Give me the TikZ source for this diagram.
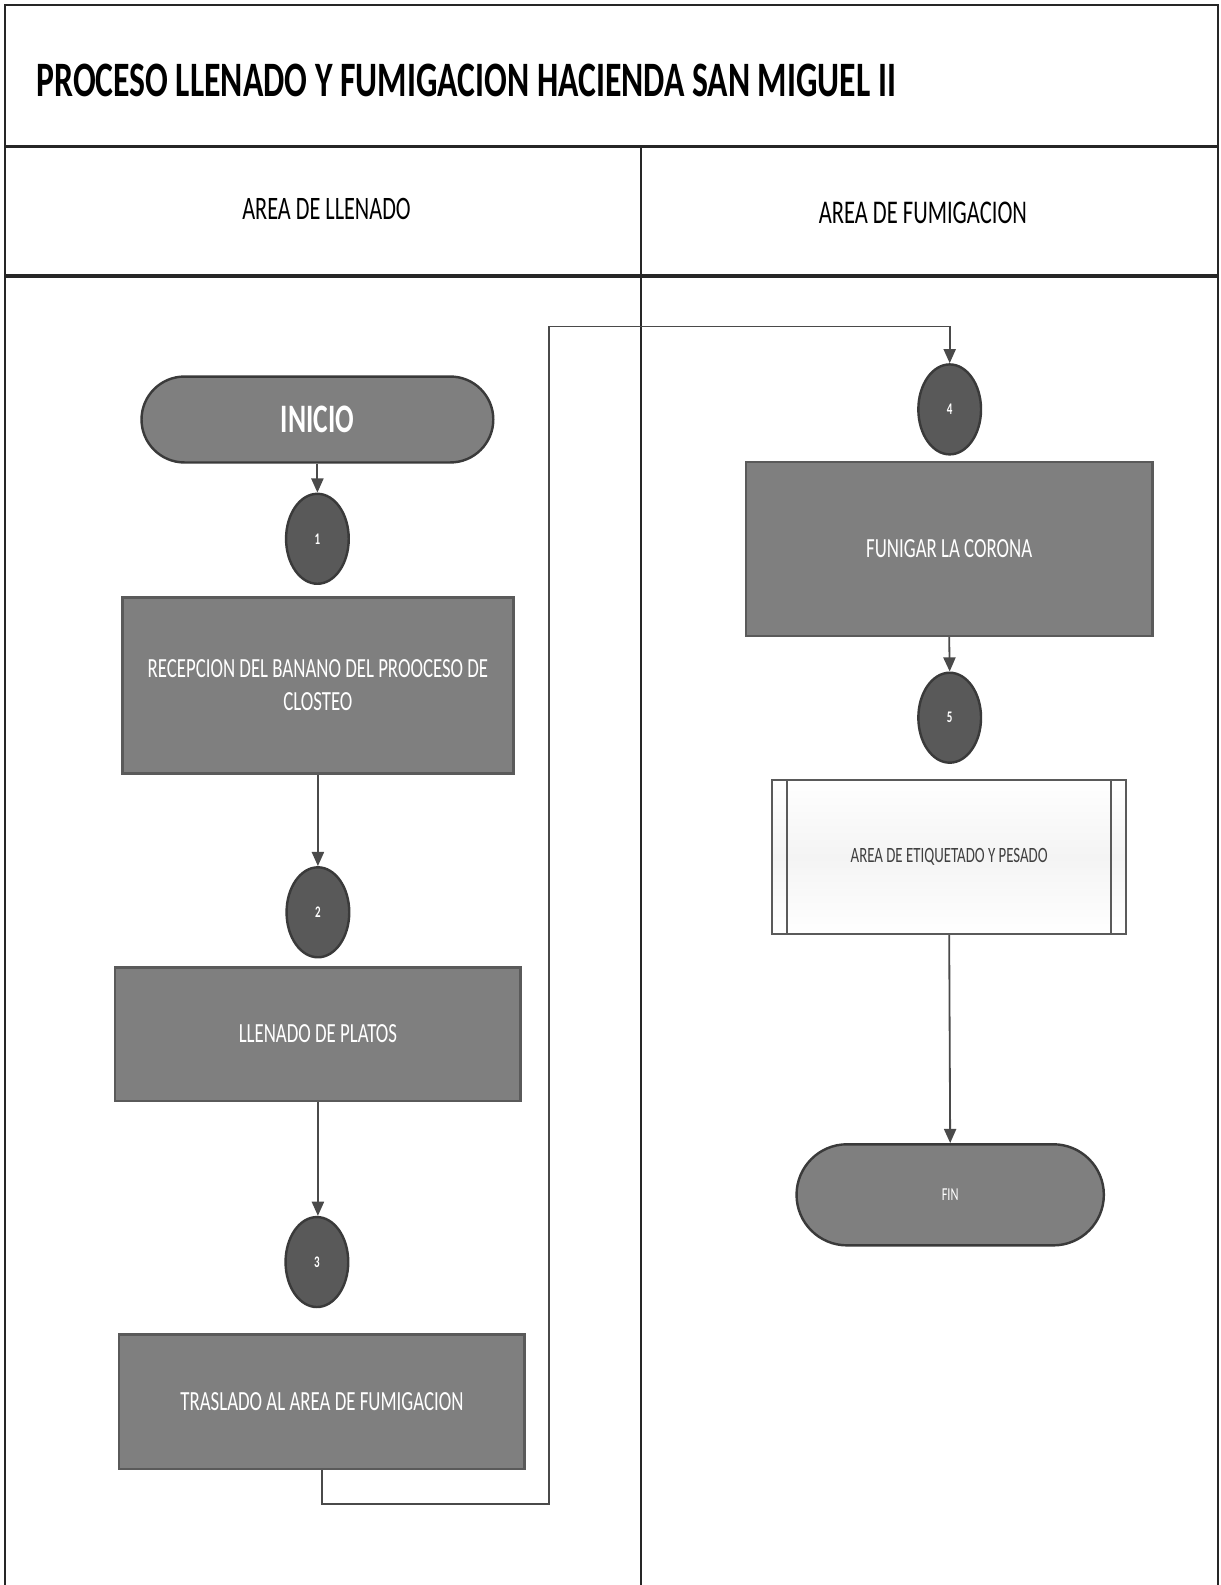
\documentclass[tikz,border=0pt]{standalone}
\usepackage{fontspec}
\setmainfont{Carlito}[FakeStretch=0.68]
\usetikzlibrary{shapes.misc,shapes.geometric,arrows.meta}
\definecolor{framecol}{HTML}{262626}
\definecolor{boxfill}{HTML}{7F7F7F}
\definecolor{boxline}{HTML}{5A5A5A}
\definecolor{dotfill}{HTML}{595959}
\definecolor{dotline}{HTML}{3A3A3A}
\definecolor{arrcol}{HTML}{4A4A4A}
\definecolor{lightfill}{HTML}{F4F4F4}
\begin{document}
\begin{tikzpicture}[x=0.5pt,y=-0.5pt,
  frame/.style={draw=framecol,line width=1.3pt},
  procbox/.style={rectangle,draw=boxline,fill=boxfill,line width=1.2pt,
    text=white,align=center,inner sep=0pt,font=\fontsize{13.7}{16.5}\selectfont},
  termbox/.style={rounded rectangle,draw=dotline,fill=boxfill,line width=1.2pt,
    text=white,inner sep=0pt},
  stepdot/.style={ellipse,draw=dotline,fill=dotfill,line width=1.2pt,
    minimum width=31pt,minimum height=44.5pt,inner sep=0pt,text=white,
    font=\fontsize{8}{9}\selectfont\bfseries},
  subproc/.style={rectangle,draw=boxline,line width=1pt,
    top color=white,bottom color=white,middle color=lightfill,
    inner sep=0pt,text=black!75,font=\fontsize{10.8}{12}\selectfont},
  arr/.style={draw=arrcol,line width=0.9pt,-{Triangle[width=6pt,length=7pt,fill=arrcol]}},
  heading/.style={text=black}
]
% page
\fill[white] (0,0) rectangle (1207,1568);
\useasboundingbox (0,0) rectangle (1207,1568);

% swimlane frame
\draw[frame] (5,1568) -- (5,5) -- (1205,5) -- (1205,1568);
\draw[frame,line width=1.6pt] (5,145) -- (1205,145);
\draw[frame,line width=1.8pt] (5,273) -- (1205,273);
\draw[frame,line width=1pt] (634,145) -- (634,1568);

% titles
\node[anchor=west,font=\fontsize{24.5}{29}\selectfont\bfseries] (title) at (29,80)
  {PROCESO LLENADO Y FUMIGACION HACIENDA SAN MIGUEL II};
\node[heading,font=\fontsize{16.2}{19}\selectfont] (laneA) at (323,207) {AREA DE LLENADO};
\node[heading,font=\fontsize{16.4}{19}\selectfont] (laneB) at (913,211) {AREA DE FUMIGACION};

% area de llenado
\node[termbox,minimum width=174pt,minimum height=42.5pt,
  font=\fontsize{20}{24}\selectfont\bfseries] (inicio) at (314,415) {INICIO};
\node[stepdot] (d1) at (314,533) {1};
\node[procbox,minimum width=193.5pt,minimum height=87pt] (recep) at (314.5,678)
  {RECEPCION DEL BANANO DEL PROOCESO DE\\CLOSTEO};
\node[stepdot] (d2) at (314.5,902.5) {2};
\node[procbox,minimum width=200.5pt,minimum height=66pt] (llen) at (314.5,1023)
  {LLENADO DE PLATOS};
\node[stepdot] (d3) at (313.5,1248.5) {3};
\node[procbox,minimum width=200.5pt,minimum height=66.5pt] (tras) at (318.5,1386.5)
  {TRASLADO AL AREA DE FUMIGACION};

% area de fumigacion
\node[stepdot] (d4) at (939.5,405) {4};
\node[procbox,minimum width=201pt,minimum height=86pt] (fumi) at (939,543)
  {FUNIGAR LA CORONA};
\node[stepdot] (d5) at (939.5,710) {5};
\node[subproc,minimum width=175pt,minimum height=76pt] (etiq) at (939,848)
  {AREA DE ETIQUETADO Y PESADO};
\draw[boxline,line width=1pt] ([xshift=8pt]etiq.north west) -- ([xshift=8pt]etiq.south west);
\draw[boxline,line width=1pt] ([xshift=-8pt]etiq.north east) -- ([xshift=-8pt]etiq.south east);
\node[termbox,minimum width=152pt,minimum height=50pt,
  font=\fontsize{9}{11}\selectfont] (fin) at (940,1182) {FIN};

% connectors
\draw[arr] (inicio.south) -- (d1.north);
\draw[arr] (recep.south) -- (d2.north);
\draw[arr] (llen.south) -- (llen.south |- d3.north);
\coordinate (bendA) at (543,1488);
\coordinate (bendB) at (543,323);
\draw[arr] (tras.south) |- (bendA) -- (bendB) -| (d4.north);
\draw[arr] (fumi.south) -- (d5.north);
\draw[arr] (etiq.south) -- (fin.north);
\end{tikzpicture}
\end{document}
